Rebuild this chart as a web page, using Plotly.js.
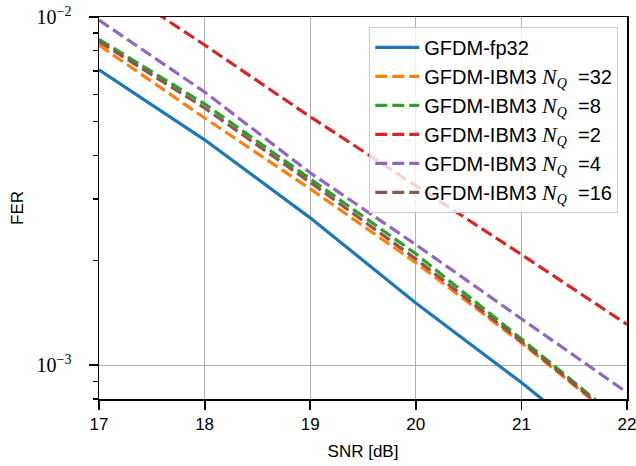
<!DOCTYPE html>
<html>
<head>
<meta charset="utf-8">
<script src="https://cdn.plot.ly/plotly-3.0.1.min.js"></script>
<style>html,body{margin:0;padding:0;background:#fff}#chart{width:636px;height:466px}</style>
</head>
<body>
<div id="chart"></div>
<script>
// SNR points (dB)
var snr = [17, 18, 19, 20, 21, 22];
// Series names
var names = [
  'GFDM-fp32',
  'GFDM-IBM3 NQ=32',
  'GFDM-IBM3 NQ=8',
  'GFDM-IBM3 NQ=2',
  'GFDM-IBM3 NQ=4',
  'GFDM-IBM3 NQ=16'
];
var nqLabels = [null, '32', '8', '2', '4', '16'];
// FER values
var ferFp32 = [7.05e-3, 4.44e-3, 2.65e-3, 1.51e-3, 8.92e-4, 5.09e-4];
var ferNq32 = [8.30e-3, 5.13e-3, 3.21e-3, 1.97e-3, 1.16e-3, 6.6e-4];
var ferNq8  = [8.63e-3, 5.63e-3, 3.43e-3, 2.09e-3, 1.19e-3, 6.7e-4];
var ferNq2  = [1.32e-2, 8.31e-3, 5.17e-3, 3.28e-3, 2.08e-3, 1.31e-3];
var ferNq4  = [9.80e-3, 6.09e-3, 3.57e-3, 2.22e-3, 1.36e-3, 8.35e-4];
var ferNq16 = [8.50e-3, 5.48e-3, 3.35e-3, 2.02e-3, 1.17e-3, 6.65e-4];
// y tick labels
var yTickVals = [1e-3, 1e-2];
var yTickText = ['10<sup>−3</sup>', '10<sup>−2</sup>'];
var yMinorVals = [8e-4, 9e-4, 2e-3, 3e-3, 4e-3, 5e-3, 6e-3, 7e-3, 8e-3, 9e-3];
var xTickVals = [17, 18, 19, 20, 21, 22];

var colors = ['#1f77b4', '#ff7f0e', '#2ca02c', '#d62728', '#9467bd', '#8c564b'];
var series = [ferFp32, ferNq32, ferNq8, ferNq2, ferNq4, ferNq16];

function label(i) {
  if (nqLabels[i] === null) return names[i];
  var m = "<span style=\"font-family:'Liberation Serif';font-style:italic;font-size:22px\">";
  var s = "<span style=\"font-family:'Liberation Serif';font-style:italic\">";
  return 'GFDM-IBM3 ' + m + 'N</span><sub>' + s + 'Q</span></sub>  =' + nqLabels[i];
}

var traces = series.map(function (ys, i) {
  return {
    x: snr, y: ys, type: 'scatter', mode: 'lines',
    name: label(i), legendgroup: 'g' + i,
    line: {color: colors[i], width: 3.2, dash: i === 0 ? 'solid' : '12px,5px'}
  };
});

var font = "'Liberation Sans', Arial, sans-serif";
var layout = {
  width: 636, height: 466,
  margin: {l: 99, r: 9, t: 17, b: 67},
  paper_bgcolor: '#fff', plot_bgcolor: '#fff',
  font: {family: font, size: 17, color: '#000'},
  showlegend: true,
  legend: {
    x: 0.9835, y: 0.974, xanchor: 'right', yanchor: 'top',
    bgcolor: 'rgba(255,255,255,0.8)', bordercolor: '#cccccc', borderwidth: 1,
    font: {family: font, size: 20, color: '#000'},
    tracegroupgap: 0, itemwidth: 44
  },
  xaxis: {
    range: [17, 22], tickvals: xTickVals, ticklabeloverflow: 'allow',
    ticks: 'outside', ticklen: 9, tickwidth: 1.8, tickcolor: '#000',
    showline: true, linecolor: '#000', linewidth: 1.5, mirror: true,
    showgrid: true, gridcolor: '#b0b0b0', gridwidth: 1.3, zeroline: false,
    tickfont: {family: font, size: 17},
    title: {text: 'SNR [dB]', font: {family: font, size: 17}, standoff: 12}
  },
  yaxis: {
    type: 'log', range: [Math.log10(8e-4), -2],
    tickvals: yTickVals, ticktext: yTickText, ticklabeloverflow: 'allow',
    ticks: 'outside', ticklen: 9, tickwidth: 1.8, tickcolor: '#000',
    ticklabelstandoff: 13,
    showline: true, linecolor: '#000', linewidth: 1.5, mirror: true,
    showgrid: true, gridcolor: '#b0b0b0', gridwidth: 1.3, zeroline: false,
    tickfont: {family: "'Liberation Serif', serif", size: 20},
    minor: {tickvals: yMinorVals, ticks: 'outside', ticklen: 5, tickwidth: 1.3, tickcolor: '#000', showgrid: false},
    title: {text: 'FER', font: {family: font, size: 17}, standoff: 8}
  }
};

Plotly.newPlot('chart', traces, layout, {displayModeBar: false, staticPlot: true});
</script>
</body>
</html>
